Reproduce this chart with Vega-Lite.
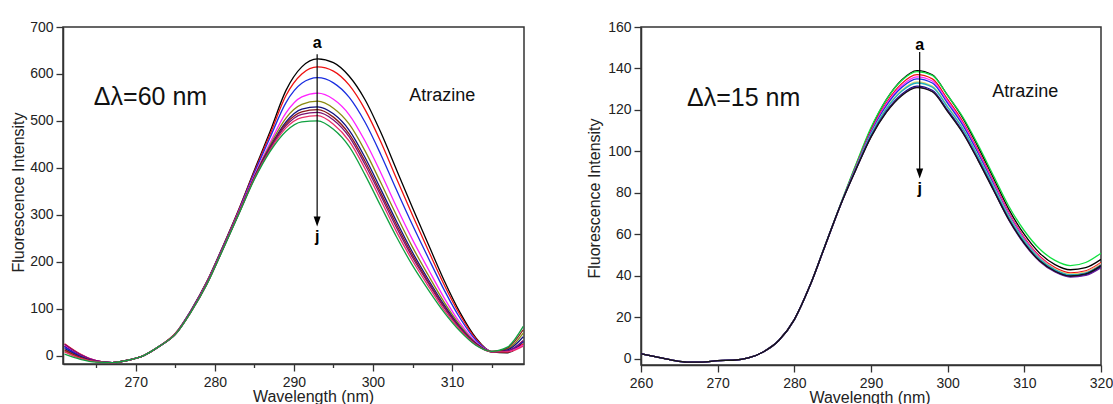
{
"$schema":"https://vega.github.io/schema/vega-lite/v6.json",
"background":"white",
"padding":{"left":9,"top":19,"right":5,"bottom":0},
"spacing":60,
"config":{"font":"Liberation Sans","view":{"stroke":"#333333","strokeWidth":1.5},
"axis":{"domainColor":"#333333","domainWidth":1.5,"tickColor":"#333333","tickWidth":1.3,"labelColor":"#222222","labelFont":"Liberation Sans","labelFontSize":14,"titleFont":"Liberation Sans","titleFontSize":16,"titleFontWeight":"normal","titleColor":"#222222","grid":false,"labelFlush":false,"labelOverlap":false}},
"datasets":{
"L":[
{"w":261,"v":20,"s":"a"},{"w":263,"v":0,"s":"a"},{"w":265,"v":-12,"s":"a"},{"w":267,"v":-15,"s":"a"},{"w":269,"v":-10,"s":"a"},{"w":271,"v":0,"s":"a"},{"w":273,"v":20,"s":"a"},{"w":275,"v":47,"s":"a"},{"w":277,"v":97,"s":"a"},{"w":279,"v":158,"s":"a"},{"w":281,"v":232,"s":"a"},{"w":283,"v":310,"s":"a"},{"w":285,"v":395,"s":"a"},{"w":287,"v":478,"s":"a"},{"w":289,"v":565,"s":"a"},{"w":291,"v":615,"s":"a"},{"w":293,"v":632,"s":"a"},{"w":295,"v":624,"s":"a"},{"w":297,"v":595,"s":"a"},{"w":299,"v":545,"s":"a"},{"w":301,"v":475,"s":"a"},{"w":303,"v":395,"s":"a"},{"w":305,"v":315,"s":"a"},{"w":307,"v":237,"s":"a"},{"w":309,"v":160,"s":"a"},{"w":311,"v":92,"s":"a"},{"w":313,"v":38,"s":"a"},{"w":315,"v":8,"s":"a"},{"w":317,"v":6,"s":"a"},{"w":319,"v":30,"s":"a"},
{"w":261,"v":25,"s":"b"},{"w":263,"v":3,"s":"b"},{"w":265,"v":-11,"s":"b"},{"w":267,"v":-15,"s":"b"},{"w":269,"v":-10,"s":"b"},{"w":271,"v":0,"s":"b"},{"w":273,"v":20,"s":"b"},{"w":275,"v":47,"s":"b"},{"w":277,"v":96,"s":"b"},{"w":279,"v":157,"s":"b"},{"w":281,"v":231,"s":"b"},{"w":283,"v":309,"s":"b"},{"w":285,"v":392,"s":"b"},{"w":287,"v":472,"s":"b"},{"w":289,"v":554,"s":"b"},{"w":291,"v":600,"s":"b"},{"w":293,"v":615,"s":"b"},{"w":295,"v":606,"s":"b"},{"w":297,"v":576,"s":"b"},{"w":299,"v":524,"s":"b"},{"w":301,"v":455,"s":"b"},{"w":303,"v":376,"s":"b"},{"w":305,"v":299,"s":"b"},{"w":307,"v":224,"s":"b"},{"w":309,"v":151,"s":"b"},{"w":311,"v":87,"s":"b"},{"w":313,"v":36,"s":"b"},{"w":315,"v":9,"s":"b"},{"w":317,"v":8,"s":"b"},{"w":319,"v":25,"s":"b"},
{"w":261,"v":18,"s":"c"},{"w":263,"v":-1,"s":"c"},{"w":265,"v":-12,"s":"c"},{"w":267,"v":-15,"s":"c"},{"w":269,"v":-10,"s":"c"},{"w":271,"v":0,"s":"c"},{"w":273,"v":20,"s":"c"},{"w":275,"v":46,"s":"c"},{"w":277,"v":96,"s":"c"},{"w":279,"v":156,"s":"c"},{"w":281,"v":230,"s":"c"},{"w":283,"v":307,"s":"c"},{"w":285,"v":389,"s":"c"},{"w":287,"v":465,"s":"c"},{"w":289,"v":539,"s":"c"},{"w":291,"v":580,"s":"c"},{"w":293,"v":592,"s":"c"},{"w":295,"v":581,"s":"c"},{"w":297,"v":550,"s":"c"},{"w":299,"v":497,"s":"c"},{"w":301,"v":428,"s":"c"},{"w":303,"v":352,"s":"c"},{"w":305,"v":278,"s":"c"},{"w":307,"v":208,"s":"c"},{"w":309,"v":140,"s":"c"},{"w":311,"v":80,"s":"c"},{"w":313,"v":33,"s":"c"},{"w":315,"v":9,"s":"c"},{"w":317,"v":10,"s":"c"},{"w":319,"v":30,"s":"c"},
{"w":261,"v":22,"s":"d"},{"w":263,"v":2,"s":"d"},{"w":265,"v":-11,"s":"d"},{"w":267,"v":-15,"s":"d"},{"w":269,"v":-10,"s":"d"},{"w":271,"v":0,"s":"d"},{"w":273,"v":20,"s":"d"},{"w":275,"v":46,"s":"d"},{"w":277,"v":95,"s":"d"},{"w":279,"v":155,"s":"d"},{"w":281,"v":228,"s":"d"},{"w":283,"v":305,"s":"d"},{"w":285,"v":384,"s":"d"},{"w":287,"v":454,"s":"d"},{"w":289,"v":517,"s":"d"},{"w":291,"v":551,"s":"d"},{"w":293,"v":559,"s":"d"},{"w":295,"v":546,"s":"d"},{"w":297,"v":513,"s":"d"},{"w":299,"v":457,"s":"d"},{"w":301,"v":389,"s":"d"},{"w":303,"v":316,"s":"d"},{"w":305,"v":247,"s":"d"},{"w":307,"v":184,"s":"d"},{"w":309,"v":123,"s":"d"},{"w":311,"v":70,"s":"d"},{"w":313,"v":29,"s":"d"},{"w":315,"v":9,"s":"d"},{"w":317,"v":9,"s":"d"},{"w":319,"v":22,"s":"d"},
{"w":261,"v":10,"s":"e"},{"w":263,"v":-5,"s":"e"},{"w":265,"v":-13,"s":"e"},{"w":267,"v":-15,"s":"e"},{"w":269,"v":-10,"s":"e"},{"w":271,"v":0,"s":"e"},{"w":273,"v":20,"s":"e"},{"w":275,"v":46,"s":"e"},{"w":277,"v":94,"s":"e"},{"w":279,"v":154,"s":"e"},{"w":281,"v":227,"s":"e"},{"w":283,"v":303,"s":"e"},{"w":285,"v":381,"s":"e"},{"w":287,"v":449,"s":"e"},{"w":289,"v":506,"s":"e"},{"w":291,"v":535,"s":"e"},{"w":293,"v":542,"s":"e"},{"w":295,"v":527,"s":"e"},{"w":297,"v":493,"s":"e"},{"w":299,"v":436,"s":"e"},{"w":301,"v":368,"s":"e"},{"w":303,"v":298,"s":"e"},{"w":305,"v":231,"s":"e"},{"w":307,"v":171,"s":"e"},{"w":309,"v":114,"s":"e"},{"w":311,"v":65,"s":"e"},{"w":313,"v":27,"s":"e"},{"w":315,"v":9,"s":"e"},{"w":317,"v":14,"s":"e"},{"w":319,"v":48,"s":"e"},
{"w":261,"v":15,"s":"f"},{"w":263,"v":-2,"s":"f"},{"w":265,"v":-12,"s":"f"},{"w":267,"v":-15,"s":"f"},{"w":269,"v":-10,"s":"f"},{"w":271,"v":0,"s":"f"},{"w":273,"v":20,"s":"f"},{"w":275,"v":45,"s":"f"},{"w":277,"v":94,"s":"f"},{"w":279,"v":153,"s":"f"},{"w":281,"v":227,"s":"f"},{"w":283,"v":302,"s":"f"},{"w":285,"v":380,"s":"f"},{"w":287,"v":445,"s":"f"},{"w":289,"v":498,"s":"f"},{"w":291,"v":525,"s":"f"},{"w":293,"v":530,"s":"f"},{"w":295,"v":515,"s":"f"},{"w":297,"v":480,"s":"f"},{"w":299,"v":422,"s":"f"},{"w":301,"v":354,"s":"f"},{"w":303,"v":285,"s":"f"},{"w":305,"v":220,"s":"f"},{"w":307,"v":162,"s":"f"},{"w":309,"v":108,"s":"f"},{"w":311,"v":61,"s":"f"},{"w":313,"v":26,"s":"f"},{"w":315,"v":8,"s":"f"},{"w":317,"v":12,"s":"f"},{"w":319,"v":40,"s":"f"},
{"w":261,"v":12,"s":"g"},{"w":263,"v":-4,"s":"g"},{"w":265,"v":-13,"s":"g"},{"w":267,"v":-15,"s":"g"},{"w":269,"v":-10,"s":"g"},{"w":271,"v":0,"s":"g"},{"w":273,"v":20,"s":"g"},{"w":275,"v":45,"s":"g"},{"w":277,"v":94,"s":"g"},{"w":279,"v":153,"s":"g"},{"w":281,"v":226,"s":"g"},{"w":283,"v":302,"s":"g"},{"w":285,"v":379,"s":"g"},{"w":287,"v":443,"s":"g"},{"w":289,"v":494,"s":"g"},{"w":291,"v":519,"s":"g"},{"w":293,"v":524,"s":"g"},{"w":295,"v":508,"s":"g"},{"w":297,"v":472,"s":"g"},{"w":299,"v":414,"s":"g"},{"w":301,"v":346,"s":"g"},{"w":303,"v":278,"s":"g"},{"w":305,"v":214,"s":"g"},{"w":307,"v":157,"s":"g"},{"w":309,"v":104,"s":"g"},{"w":311,"v":59,"s":"g"},{"w":313,"v":25,"s":"g"},{"w":315,"v":8,"s":"g"},{"w":317,"v":16,"s":"g"},{"w":319,"v":55,"s":"g"},
{"w":261,"v":24,"s":"h"},{"w":263,"v":2,"s":"h"},{"w":265,"v":-11,"s":"h"},{"w":267,"v":-15,"s":"h"},{"w":269,"v":-10,"s":"h"},{"w":271,"v":0,"s":"h"},{"w":273,"v":20,"s":"h"},{"w":275,"v":45,"s":"h"},{"w":277,"v":94,"s":"h"},{"w":279,"v":153,"s":"h"},{"w":281,"v":226,"s":"h"},{"w":283,"v":301,"s":"h"},{"w":285,"v":378,"s":"h"},{"w":287,"v":441,"s":"h"},{"w":289,"v":490,"s":"h"},{"w":291,"v":514,"s":"h"},{"w":293,"v":518,"s":"h"},{"w":295,"v":502,"s":"h"},{"w":297,"v":466,"s":"h"},{"w":299,"v":407,"s":"h"},{"w":301,"v":340,"s":"h"},{"w":303,"v":272,"s":"h"},{"w":305,"v":209,"s":"h"},{"w":307,"v":154,"s":"h"},{"w":309,"v":102,"s":"h"},{"w":311,"v":58,"s":"h"},{"w":313,"v":24,"s":"h"},{"w":315,"v":8,"s":"h"},{"w":317,"v":10,"s":"h"},{"w":319,"v":32,"s":"h"},
{"w":261,"v":8,"s":"i"},{"w":263,"v":-6,"s":"i"},{"w":265,"v":-13,"s":"i"},{"w":267,"v":-15,"s":"i"},{"w":269,"v":-10,"s":"i"},{"w":271,"v":0,"s":"i"},{"w":273,"v":20,"s":"i"},{"w":275,"v":45,"s":"i"},{"w":277,"v":93,"s":"i"},{"w":279,"v":152,"s":"i"},{"w":281,"v":226,"s":"i"},{"w":283,"v":301,"s":"i"},{"w":285,"v":377,"s":"i"},{"w":287,"v":438,"s":"i"},{"w":289,"v":485,"s":"i"},{"w":291,"v":507,"s":"i"},{"w":293,"v":511,"s":"i"},{"w":295,"v":493,"s":"i"},{"w":297,"v":457,"s":"i"},{"w":299,"v":398,"s":"i"},{"w":301,"v":331,"s":"i"},{"w":303,"v":263,"s":"i"},{"w":305,"v":202,"s":"i"},{"w":307,"v":148,"s":"i"},{"w":309,"v":97,"s":"i"},{"w":311,"v":55,"s":"i"},{"w":313,"v":23,"s":"i"},{"w":315,"v":8,"s":"i"},{"w":317,"v":8,"s":"i"},{"w":319,"v":20,"s":"i"},
{"w":261,"v":3,"s":"j"},{"w":263,"v":-8,"s":"j"},{"w":265,"v":-14,"s":"j"},{"w":267,"v":-15,"s":"j"},{"w":269,"v":-10,"s":"j"},{"w":271,"v":0,"s":"j"},{"w":273,"v":20,"s":"j"},{"w":275,"v":45,"s":"j"},{"w":277,"v":93,"s":"j"},{"w":279,"v":152,"s":"j"},{"w":281,"v":225,"s":"j"},{"w":283,"v":300,"s":"j"},{"w":285,"v":375,"s":"j"},{"w":287,"v":435,"s":"j"},{"w":289,"v":478,"s":"j"},{"w":291,"v":498,"s":"j"},{"w":293,"v":500,"s":"j"},{"w":295,"v":482,"s":"j"},{"w":297,"v":445,"s":"j"},{"w":299,"v":385,"s":"j"},{"w":301,"v":318,"s":"j"},{"w":303,"v":252,"s":"j"},{"w":305,"v":192,"s":"j"},{"w":307,"v":140,"s":"j"},{"w":309,"v":92,"s":"j"},{"w":311,"v":52,"s":"j"},{"w":313,"v":22,"s":"j"},{"w":315,"v":9,"s":"j"},{"w":317,"v":18,"s":"j"},{"w":319,"v":62,"s":"j"}
],
"R":[
{"w":260,"v":2.5,"s":"k1"},{"w":262,"v":1,"s":"k1"},{"w":264,"v":-0.5,"s":"k1"},{"w":266,"v":-1.5,"s":"k1"},{"w":268,"v":-1.5,"s":"k1"},{"w":270,"v":-0.8,"s":"k1"},{"w":272,"v":-0.6,"s":"k1"},{"w":274,"v":0.5,"s":"k1"},{"w":276,"v":3.5,"s":"k1"},{"w":278,"v":9,"s":"k1"},{"w":280,"v":19,"s":"k1"},{"w":282,"v":35,"s":"k1"},{"w":284,"v":54.5,"s":"k1"},{"w":286,"v":74,"s":"k1"},{"w":288,"v":93,"s":"k1"},{"w":290,"v":111,"s":"k1"},{"w":292,"v":125,"s":"k1"},{"w":294,"v":134.5,"s":"k1"},{"w":296,"v":139,"s":"k1"},{"w":298,"v":137,"s":"k1"},{"w":300,"v":127,"s":"k1"},{"w":302,"v":116,"s":"k1"},{"w":304,"v":102,"s":"k1"},{"w":306,"v":87,"s":"k1"},{"w":308,"v":72,"s":"k1"},{"w":310,"v":60,"s":"k1"},{"w":312,"v":51,"s":"k1"},{"w":314,"v":45.5,"s":"k1"},{"w":316,"v":43,"s":"k1"},{"w":318,"v":44,"s":"k1"},{"w":320,"v":48,"s":"k1"},
{"w":260,"v":2.5,"s":"g"},{"w":262,"v":1,"s":"g"},{"w":264,"v":-0.5,"s":"g"},{"w":266,"v":-1.5,"s":"g"},{"w":268,"v":-1.5,"s":"g"},{"w":270,"v":-0.8,"s":"g"},{"w":272,"v":-0.6,"s":"g"},{"w":274,"v":0.5,"s":"g"},{"w":276,"v":3.5,"s":"g"},{"w":278,"v":9,"s":"g"},{"w":280,"v":19,"s":"g"},{"w":282,"v":35,"s":"g"},{"w":284,"v":54.8,"s":"g"},{"w":286,"v":74.4,"s":"g"},{"w":288,"v":93.5,"s":"g"},{"w":290,"v":111.5,"s":"g"},{"w":292,"v":125,"s":"g"},{"w":294,"v":134.2,"s":"g"},{"w":296,"v":138.5,"s":"g"},{"w":298,"v":136.7,"s":"g"},{"w":300,"v":127,"s":"g"},{"w":302,"v":116.5,"s":"g"},{"w":304,"v":103,"s":"g"},{"w":306,"v":88.2,"s":"g"},{"w":308,"v":73.5,"s":"g"},{"w":310,"v":61.8,"s":"g"},{"w":312,"v":53,"s":"g"},{"w":314,"v":47.5,"s":"g"},{"w":316,"v":45,"s":"g"},{"w":318,"v":46.5,"s":"g"},{"w":320,"v":51,"s":"g"},
{"w":260,"v":2.5,"s":"r"},{"w":262,"v":1,"s":"r"},{"w":264,"v":-0.5,"s":"r"},{"w":266,"v":-1.5,"s":"r"},{"w":268,"v":-1.5,"s":"r"},{"w":270,"v":-0.8,"s":"r"},{"w":272,"v":-0.6,"s":"r"},{"w":274,"v":0.5,"s":"r"},{"w":276,"v":3.5,"s":"r"},{"w":278,"v":9,"s":"r"},{"w":280,"v":19,"s":"r"},{"w":282,"v":35,"s":"r"},{"w":284,"v":54.5,"s":"r"},{"w":286,"v":74,"s":"r"},{"w":288,"v":92.5,"s":"r"},{"w":290,"v":110,"s":"r"},{"w":292,"v":123.5,"s":"r"},{"w":294,"v":132.7,"s":"r"},{"w":296,"v":137,"s":"r"},{"w":298,"v":135,"s":"r"},{"w":300,"v":125.1,"s":"r"},{"w":302,"v":114.2,"s":"r"},{"w":304,"v":100.3,"s":"r"},{"w":306,"v":85.4,"s":"r"},{"w":308,"v":70.5,"s":"r"},{"w":310,"v":58.5,"s":"r"},{"w":312,"v":49.5,"s":"r"},{"w":314,"v":44,"s":"r"},{"w":316,"v":41.5,"s":"r"},{"w":318,"v":42.5,"s":"r"},{"w":320,"v":46.5,"s":"r"},
{"w":260,"v":2.5,"s":"m"},{"w":262,"v":1,"s":"m"},{"w":264,"v":-0.5,"s":"m"},{"w":266,"v":-1.5,"s":"m"},{"w":268,"v":-1.5,"s":"m"},{"w":270,"v":-0.8,"s":"m"},{"w":272,"v":-0.6,"s":"m"},{"w":274,"v":0.5,"s":"m"},{"w":276,"v":3.5,"s":"m"},{"w":278,"v":9,"s":"m"},{"w":280,"v":19,"s":"m"},{"w":282,"v":35,"s":"m"},{"w":284,"v":54.5,"s":"m"},{"w":286,"v":74,"s":"m"},{"w":288,"v":92.2,"s":"m"},{"w":290,"v":109.5,"s":"m"},{"w":292,"v":122.8,"s":"m"},{"w":294,"v":131.7,"s":"m"},{"w":296,"v":136,"s":"m"},{"w":298,"v":134,"s":"m"},{"w":300,"v":124.2,"s":"m"},{"w":302,"v":113.4,"s":"m"},{"w":304,"v":99.6,"s":"m"},{"w":306,"v":84.8,"s":"m"},{"w":308,"v":70,"s":"m"},{"w":310,"v":58,"s":"m"},{"w":312,"v":49,"s":"m"},{"w":314,"v":43.5,"s":"m"},{"w":316,"v":41,"s":"m"},{"w":318,"v":42,"s":"m"},{"w":320,"v":46,"s":"m"},
{"w":260,"v":2.5,"s":"b"},{"w":262,"v":1,"s":"b"},{"w":264,"v":-0.5,"s":"b"},{"w":266,"v":-1.5,"s":"b"},{"w":268,"v":-1.5,"s":"b"},{"w":270,"v":-0.8,"s":"b"},{"w":272,"v":-0.6,"s":"b"},{"w":274,"v":0.5,"s":"b"},{"w":276,"v":3.5,"s":"b"},{"w":278,"v":9,"s":"b"},{"w":280,"v":19,"s":"b"},{"w":282,"v":35,"s":"b"},{"w":284,"v":54.5,"s":"b"},{"w":286,"v":74,"s":"b"},{"w":288,"v":92,"s":"b"},{"w":290,"v":109,"s":"b"},{"w":292,"v":122,"s":"b"},{"w":294,"v":130.8,"s":"b"},{"w":296,"v":135,"s":"b"},{"w":298,"v":133,"s":"b"},{"w":300,"v":123.2,"s":"b"},{"w":302,"v":112.5,"s":"b"},{"w":304,"v":98.8,"s":"b"},{"w":306,"v":84,"s":"b"},{"w":308,"v":69.2,"s":"b"},{"w":310,"v":57.4,"s":"b"},{"w":312,"v":48.5,"s":"b"},{"w":314,"v":43,"s":"b"},{"w":316,"v":40.5,"s":"b"},{"w":318,"v":41.5,"s":"b"},{"w":320,"v":45.5,"s":"b"},
{"w":260,"v":2.5,"s":"y"},{"w":262,"v":1,"s":"y"},{"w":264,"v":-0.5,"s":"y"},{"w":266,"v":-1.5,"s":"y"},{"w":268,"v":-1.5,"s":"y"},{"w":270,"v":-0.8,"s":"y"},{"w":272,"v":-0.6,"s":"y"},{"w":274,"v":0.5,"s":"y"},{"w":276,"v":3.5,"s":"y"},{"w":278,"v":9,"s":"y"},{"w":280,"v":19,"s":"y"},{"w":282,"v":35,"s":"y"},{"w":284,"v":54.5,"s":"y"},{"w":286,"v":74,"s":"y"},{"w":288,"v":91.6,"s":"y"},{"w":290,"v":108.3,"s":"y"},{"w":292,"v":120.9,"s":"y"},{"w":294,"v":129.5,"s":"y"},{"w":296,"v":133.5,"s":"y"},{"w":298,"v":131.5,"s":"y"},{"w":300,"v":121.8,"s":"y"},{"w":302,"v":111.2,"s":"y"},{"w":304,"v":97.7,"s":"y"},{"w":306,"v":83.2,"s":"y"},{"w":308,"v":68.7,"s":"y"},{"w":310,"v":57.2,"s":"y"},{"w":312,"v":48.6,"s":"y"},{"w":314,"v":43.5,"s":"y"},{"w":316,"v":41,"s":"y"},{"w":318,"v":42,"s":"y"},{"w":320,"v":46,"s":"y"},
{"w":260,"v":2.5,"s":"c"},{"w":262,"v":1,"s":"c"},{"w":264,"v":-0.5,"s":"c"},{"w":266,"v":-1.5,"s":"c"},{"w":268,"v":-1.5,"s":"c"},{"w":270,"v":-0.8,"s":"c"},{"w":272,"v":-0.6,"s":"c"},{"w":274,"v":0.5,"s":"c"},{"w":276,"v":3.5,"s":"c"},{"w":278,"v":9,"s":"c"},{"w":280,"v":19,"s":"c"},{"w":282,"v":35,"s":"c"},{"w":284,"v":54.5,"s":"c"},{"w":286,"v":74,"s":"c"},{"w":288,"v":91.5,"s":"c"},{"w":290,"v":108,"s":"c"},{"w":292,"v":120.5,"s":"c"},{"w":294,"v":129,"s":"c"},{"w":296,"v":133,"s":"c"},{"w":298,"v":131,"s":"c"},{"w":300,"v":121.3,"s":"c"},{"w":302,"v":110.8,"s":"c"},{"w":304,"v":97.3,"s":"c"},{"w":306,"v":82.8,"s":"c"},{"w":308,"v":68.3,"s":"c"},{"w":310,"v":56.8,"s":"c"},{"w":312,"v":48.2,"s":"c"},{"w":314,"v":43,"s":"c"},{"w":316,"v":40.5,"s":"c"},{"w":318,"v":41.3,"s":"c"},{"w":320,"v":45,"s":"c"},
{"w":260,"v":2.5,"s":"n"},{"w":262,"v":1,"s":"n"},{"w":264,"v":-0.5,"s":"n"},{"w":266,"v":-1.5,"s":"n"},{"w":268,"v":-1.5,"s":"n"},{"w":270,"v":-0.8,"s":"n"},{"w":272,"v":-0.6,"s":"n"},{"w":274,"v":0.5,"s":"n"},{"w":276,"v":3.5,"s":"n"},{"w":278,"v":9,"s":"n"},{"w":280,"v":19,"s":"n"},{"w":282,"v":35,"s":"n"},{"w":284,"v":54.5,"s":"n"},{"w":286,"v":74,"s":"n"},{"w":288,"v":91.1,"s":"n"},{"w":290,"v":107.3,"s":"n"},{"w":292,"v":119.4,"s":"n"},{"w":294,"v":127.6,"s":"n"},{"w":296,"v":131.5,"s":"n"},{"w":298,"v":129.5,"s":"n"},{"w":300,"v":119.9,"s":"n"},{"w":302,"v":109.4,"s":"n"},{"w":304,"v":96,"s":"n"},{"w":306,"v":81.6,"s":"n"},{"w":308,"v":67.2,"s":"n"},{"w":310,"v":55.8,"s":"n"},{"w":312,"v":47.3,"s":"n"},{"w":314,"v":42.2,"s":"n"},{"w":316,"v":39.8,"s":"n"},{"w":318,"v":40.6,"s":"n"},{"w":320,"v":44.5,"s":"n"},
{"w":260,"v":2.5,"s":"p"},{"w":262,"v":1,"s":"p"},{"w":264,"v":-0.5,"s":"p"},{"w":266,"v":-1.5,"s":"p"},{"w":268,"v":-1.5,"s":"p"},{"w":270,"v":-0.8,"s":"p"},{"w":272,"v":-0.6,"s":"p"},{"w":274,"v":0.5,"s":"p"},{"w":276,"v":3.5,"s":"p"},{"w":278,"v":9,"s":"p"},{"w":280,"v":19,"s":"p"},{"w":282,"v":35,"s":"p"},{"w":284,"v":54.5,"s":"p"},{"w":286,"v":74,"s":"p"},{"w":288,"v":91,"s":"p"},{"w":290,"v":107,"s":"p"},{"w":292,"v":119,"s":"p"},{"w":294,"v":127.1,"s":"p"},{"w":296,"v":131,"s":"p"},{"w":298,"v":129,"s":"p"},{"w":300,"v":119.4,"s":"p"},{"w":302,"v":109,"s":"p"},{"w":304,"v":95.6,"s":"p"},{"w":306,"v":81.2,"s":"p"},{"w":308,"v":66.8,"s":"p"},{"w":310,"v":55.4,"s":"p"},{"w":312,"v":47,"s":"p"},{"w":314,"v":41.9,"s":"p"},{"w":316,"v":39.5,"s":"p"},{"w":318,"v":40.3,"s":"p"},{"w":320,"v":44,"s":"p"},
{"w":260,"v":2.5,"s":"k2"},{"w":262,"v":1,"s":"k2"},{"w":264,"v":-0.5,"s":"k2"},{"w":266,"v":-1.5,"s":"k2"},{"w":268,"v":-1.5,"s":"k2"},{"w":270,"v":-0.8,"s":"k2"},{"w":272,"v":-0.6,"s":"k2"},{"w":274,"v":0.5,"s":"k2"},{"w":276,"v":3.5,"s":"k2"},{"w":278,"v":9,"s":"k2"},{"w":280,"v":19,"s":"k2"},{"w":282,"v":35,"s":"k2"},{"w":284,"v":54.5,"s":"k2"},{"w":286,"v":74,"s":"k2"},{"w":288,"v":91,"s":"k2"},{"w":290,"v":106.9,"s":"k2"},{"w":292,"v":118.8,"s":"k2"},{"w":294,"v":126.9,"s":"k2"},{"w":296,"v":130.8,"s":"k2"},{"w":298,"v":128.8,"s":"k2"},{"w":300,"v":119.2,"s":"k2"},{"w":302,"v":108.8,"s":"k2"},{"w":304,"v":95.5,"s":"k2"},{"w":306,"v":81.2,"s":"k2"},{"w":308,"v":67,"s":"k2"},{"w":310,"v":55.7,"s":"k2"},{"w":312,"v":47.3,"s":"k2"},{"w":314,"v":42.3,"s":"k2"},{"w":316,"v":40,"s":"k2"},{"w":318,"v":41,"s":"k2"},{"w":320,"v":45,"s":"k2"}
]},
"hconcat":[
{"width":461,"height":337,
"layer":[
{"data":{"name":"L"},"mark":{"type":"line","strokeWidth":1.3,"interpolate":"monotone","clip":true},
"encoding":{
"x":{"field":"w","type":"quantitative","scale":{"domain":[260.8,319.1],"nice":false,"zero":false},
"axis":{"title":"Wavelength (nm)","values":[265,270,275,280,285,290,295,300,305,310,315],"labelExpr":"datum.value % 10 === 0 ? datum.label : ''","tickSize":{"condition":{"test":"datum.value % 10 === 0","value":7},"value":3.5},"labelPadding":4,"titleX":250,"titleY":37,"titleAlign":"center","titleBaseline":"alphabetic"}},
"y":{"field":"v","type":"quantitative","scale":{"domain":[-18,700],"nice":false,"zero":false},
"axis":{"title":"Fluorescence Intensity","values":[0,50,100,150,200,250,300,350,400,450,500,550,600,650,700],"labelExpr":"datum.value % 100 === 0 ? datum.label : ''","tickSize":{"condition":{"test":"datum.value % 100 === 0","value":7},"value":3.5},"labelPadding":3,"titleX":-45,"titleY":165,"titleAngle":270,"titleAlign":"center","titleBaseline":"middle"}},
"color":{"field":"s","type":"nominal","legend":null,"scale":{"domain":["a","b","c","d","e","f","g","h","i","j"],"range":["#000000","#ee1111","#1a2ee0","#ff22ff","#8a8a10","#101080","#8b1a1a","#7a1070","#e8306a","#10a040"]}}}},
{"data":{"values":[{}]},"mark":{"type":"rule","strokeWidth":1.2,"color":"#000000"},"encoding":{"x":{"datum":292.94,"type":"quantitative"},"y":{"datum":642,"type":"quantitative"},"y2":{"datum":282}}},
{"data":{"values":[{}]},"mark":{"type":"point","shape":"M-0.35,-1L0.35,-1L0,0Z","size":400,"filled":true,"color":"#000000","opacity":1},"encoding":{"x":{"datum":292.94,"type":"quantitative"},"y":{"datum":275,"type":"quantitative"}}},
{"data":{"values":[{}]},"mark":{"type":"text","text":"a","fontSize":16,"fontWeight":"bold","baseline":"middle","align":"center","color":"#000000"},"encoding":{"x":{"datum":292.94,"type":"quantitative"},"y":{"datum":665,"type":"quantitative"}}},
{"data":{"values":[{}]},"mark":{"type":"text","text":"j","fontSize":16,"fontWeight":"bold","baseline":"middle","align":"center","color":"#000000"},"encoding":{"x":{"datum":292.94,"type":"quantitative"},"y":{"datum":253,"type":"quantitative"}}},
{"data":{"values":[{}]},"mark":{"type":"text","text":"Δλ=60 nm","fontSize":25,"baseline":"middle","align":"left","color":"#111111"},"encoding":{"x":{"datum":264.7,"type":"quantitative"},"y":{"datum":550,"type":"quantitative"}}},
{"data":{"values":[{}]},"mark":{"type":"text","text":"Atrazine","fontSize":18,"baseline":"middle","align":"left","color":"#111111"},"encoding":{"x":{"datum":304.6,"type":"quantitative"},"y":{"datum":552,"type":"quantitative"}}}
]},
{"width":460,"height":338,
"layer":[
{"data":{"name":"R"},"mark":{"type":"line","strokeWidth":1.3,"interpolate":"monotone","clip":true},
"encoding":{
"x":{"field":"w","type":"quantitative","scale":{"domain":[260,320],"nice":false,"zero":false},
"axis":{"title":"Wavelength (nm)","values":[260,265,270,275,280,285,290,295,300,305,310,315,320],"labelExpr":"datum.value % 10 === 0 ? datum.label : ''","tickSize":{"condition":{"test":"datum.value % 10 === 0","value":7},"value":3.5},"labelPadding":4,"titleX":228.5,"titleY":37,"titleAlign":"center","titleBaseline":"alphabetic"}},
"y":{"field":"v","type":"quantitative","scale":{"domain":[-2.9,160],"nice":false,"zero":false},
"axis":{"title":"Fluorescence Intensity","values":[0,10,20,30,40,50,60,70,80,90,100,110,120,130,140,150,160],"labelExpr":"datum.value % 20 === 0 ? datum.label : ''","tickSize":{"condition":{"test":"datum.value % 20 === 0","value":7},"value":3.5},"labelPadding":3,"titleX":-47,"titleY":171,"titleAngle":270,"titleAlign":"center","titleBaseline":"middle"}},
"color":{"field":"s","type":"nominal","legend":null,"scale":{"domain":["k1","g","r","m","b","y","c","n","p","k2"],"range":["#000000","#10e040","#ee1111","#ff22ff","#1a2ee0","#e0d870","#20b0c0","#101080","#6a1a9a","#151515"]}}}},
{"data":{"values":[{}]},"mark":{"type":"rule","strokeWidth":1.2,"color":"#000000"},"encoding":{"x":{"datum":296.35,"type":"quantitative"},"y":{"datum":148,"type":"quantitative"},"y2":{"datum":90}}},
{"data":{"values":[{}]},"mark":{"type":"point","shape":"M-0.35,-1L0.35,-1L0,0Z","size":400,"filled":true,"color":"#000000","opacity":1},"encoding":{"x":{"datum":296.35,"type":"quantitative"},"y":{"datum":87,"type":"quantitative"}}},
{"data":{"values":[{}]},"mark":{"type":"text","text":"a","fontSize":16,"fontWeight":"bold","baseline":"middle","align":"center","color":"#000000"},"encoding":{"x":{"datum":296.35,"type":"quantitative"},"y":{"datum":151.5,"type":"quantitative"}}},
{"data":{"values":[{}]},"mark":{"type":"text","text":"j","fontSize":16,"fontWeight":"bold","baseline":"middle","align":"center","color":"#000000"},"encoding":{"x":{"datum":296.35,"type":"quantitative"},"y":{"datum":82,"type":"quantitative"}}},
{"data":{"values":[{}]},"mark":{"type":"text","text":"Δλ=15 nm","fontSize":25,"baseline":"middle","align":"left","color":"#111111"},"encoding":{"x":{"datum":266,"type":"quantitative"},"y":{"datum":125.8,"type":"quantitative"}}},
{"data":{"values":[{}]},"mark":{"type":"text","text":"Atrazine","fontSize":18,"baseline":"middle","align":"left","color":"#111111"},"encoding":{"x":{"datum":305.8,"type":"quantitative"},"y":{"datum":128.5,"type":"quantitative"}}}
]}
],
"resolve":{"scale":{"x":"independent","y":"independent","color":"independent"}}
}
